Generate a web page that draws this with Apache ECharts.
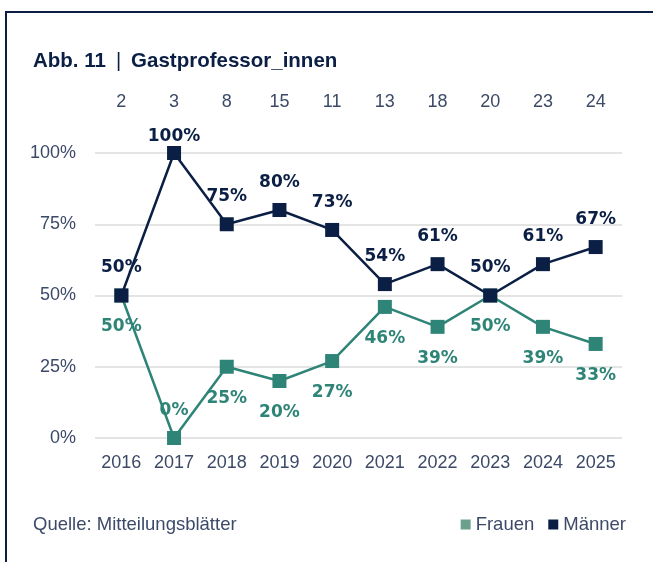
<!DOCTYPE html>
<html>
<head>
<meta charset="utf-8">
<script src="https://cdn.jsdelivr.net/npm/echarts@6/dist/echarts.min.js"></script>
<style>
  body { margin: 0; background: #fff; }
  #frame { position: absolute; left: 5px; top: 11px; width: 700px; height: 600px;
           border-top: 2px solid #0b1f45; border-left: 2px solid #0b1f45; }
  #main { position: absolute; left: 0; top: 0; width: 653px; height: 562px; }
</style>
</head>
<body>
<div id="frame"></div>
<div id="main"></div>
<script>
  // Werte aus der Abbildung
  const years = ['2016', '2017', '2018', '2019', '2020', '2021', '2022', '2023', '2024', '2025'];
  const counts = ['2', '3', '8', '15', '11', '13', '18', '20', '23', '24'];
  const frauen = [50, 0, 25, 20, 27, 46, 39, 50, 39, 33];
  const maenner = [50, 100, 75, 80, 73, 54, 61, 50, 61, 67];

  const navy = '#0b1f45';
  const teal = '#2e8477';
  const axisGrey = '#3c4a68';
  const font = '"Liberation Sans", Arial, sans-serif';
  const labelFont = '"DejaVu Sans", sans-serif';

  let myChart = echarts.init(document.getElementById('main'));

  // 0% bei 2017 steht oberhalb des Punktes
  let frauenData = frauen.map(function (v) {
    if (v === 0) {
      return { value: v, label: { position: 'top', distance: 12 } };
    }
    return v;
  });
  // 100% sitzt dicht am Punkt
  let maennerData = maenner.map(function (v) {
    if (v === 100) {
      return { value: v, label: { distance: 1 } };
    }
    return v;
  });

  myChart.setOption({
    animation: false,
    title: [{
      left: 28,
      top: 46,
      text: '{b|Abb. 11} {s||} {b|Gastprofessor_innen}',
      textStyle: {
        rich: {
          b: { fontFamily: font, fontWeight: 'bold', fontSize: 20.5, color: navy },
          s: { fontFamily: font, fontWeight: 'normal', fontSize: 20, color: navy, padding: [0, 5] }
        }
      }
    }, {
      left: 28,
      top: 510,
      text: 'Quelle: Mitteilungsblätter',
      textStyle: { fontFamily: font, fontWeight: 'normal', fontSize: 18.5, color: axisGrey }
    }],
    legend: {
      right: 22,
      top: 510,
      itemWidth: 10,
      itemHeight: 10,
      itemGap: 14,
      icon: 'rect',
      textStyle: { fontFamily: font, fontSize: 18.5, color: axisGrey },
      data: [
        { name: 'Frauen', itemStyle: { color: '#6aa08c' } },
        { name: 'Männer', itemStyle: { color: navy } }
      ]
    },
    grid: { left: 95, right: 31, top: 153, bottom: 124 },
    xAxis: [{
      type: 'category',
      data: years,
      position: 'bottom',
      axisLine: { show: false },
      axisTick: { show: false },
      axisLabel: { margin: 16, fontFamily: font, fontSize: 18, color: axisGrey }
    }, {
      type: 'category',
      data: counts,
      position: 'top',
      axisLine: { show: false },
      axisTick: { show: false },
      axisLabel: { margin: 42, fontFamily: font, fontSize: 18, color: axisGrey }
    }],
    yAxis: {
      type: 'value',
      min: 0,
      max: 100,
      interval: 25,
      axisLine: { show: false },
      axisTick: { show: false },
      axisLabel: { margin: 19, formatter: '{value}%', fontFamily: font, fontSize: 18, color: axisGrey },
      splitLine: { lineStyle: { color: '#e4e4e4', width: 2 } }
    },
    series: [{
      name: 'Frauen',
      type: 'line',
      data: frauenData,
      symbol: 'rect',
      symbolSize: 14,
      color: teal,
      lineStyle: { color: teal, width: 2.5 },
      itemStyle: { color: teal },
      label: {
        show: true,
        position: 'bottom',
        distance: 16,
        formatter: '{c}%',
        fontFamily: labelFont,
        fontWeight: 'bold',
        fontSize: 17,
        color: teal
      },
      z: 2
    }, {
      name: 'Männer',
      type: 'line',
      data: maennerData,
      symbol: 'rect',
      symbolSize: 14,
      color: navy,
      lineStyle: { color: navy, width: 2.5 },
      itemStyle: { color: navy },
      label: {
        show: true,
        position: 'top',
        distance: 12,
        formatter: '{c}%',
        fontFamily: labelFont,
        fontWeight: 'bold',
        fontSize: 17,
        color: navy
      },
      z: 3
    }]
  });
</script>
</body>
</html>
